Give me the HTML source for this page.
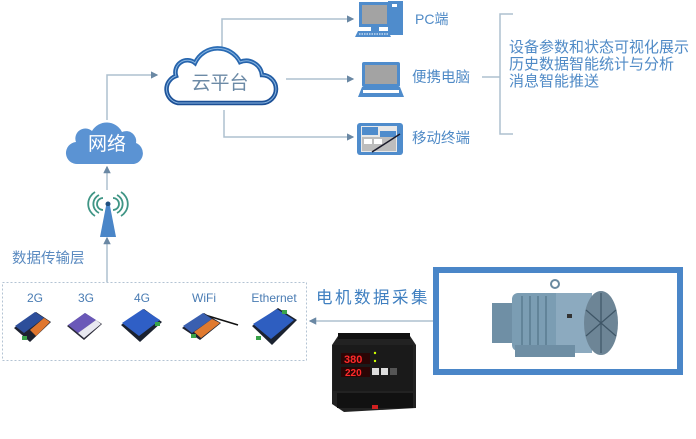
<!DOCTYPE html>
<html><head><meta charset="utf-8">
<style>
html,body{margin:0;padding:0;background:#fff;}
svg{display:block;}
text{font-family:"Liberation Sans","Noto Sans CJK SC",sans-serif;}
</style></head>
<body>
<svg width="696" height="439" viewBox="0 0 696 439" xmlns="http://www.w3.org/2000/svg">
<defs>
<linearGradient id="cg" x1="0" y1="0" x2="0" y2="1">
<stop offset="0" stop-color="#2a6cb5"/><stop offset="1" stop-color="#1c4f95"/>
</linearGradient>
<marker id="ar" viewBox="0 0 6 6" refX="5" refY="3" markerWidth="5" markerHeight="5" orient="auto">
<path d="M0,0 L6,3 L0,6 z" fill="#6a88a4"/>
</marker>
</defs>

<!-- connectors -->
<g stroke="#adc0cf" stroke-width="1.5" fill="none">
<path d="M222 47 V19 H353" marker-end="url(#ar)"/>
<path d="M286 79 H353" marker-end="url(#ar)"/>
<path d="M224 110 V137 H353" marker-end="url(#ar)"/>
<path d="M107 120 V75 H157" marker-end="url(#ar)"/>
<path d="M107 190 V167" marker-end="url(#ar)"/>
<path d="M107 282 V238" marker-end="url(#ar)"/>
<path d="M433 321 H310" marker-end="url(#ar)"/>
<path d="M482 77 H500"/>
<path d="M513 14 H500 V134 H513"/>
</g>

<!-- cloud platform -->
<path d="M178 103 A14 14 0 0 1 176 76 A12 12 0 0 1 195 63 A25 25 0 0 1 240 62 A16 16 0 0 1 262 75 A14 14 0 0 1 262 103 Z" fill="#fff" stroke="url(#cg)" stroke-width="4.5"/>
<path d="M178 103 A14 14 0 0 1 176 76 A12 12 0 0 1 195 63 A25 25 0 0 1 240 62 A16 16 0 0 1 262 75 A14 14 0 0 1 262 103 Z" fill="none" stroke="#8ab6e2" stroke-width="1"/>
<text x="220" y="89" font-size="19" fill="#6c8aa6" text-anchor="middle">云平台</text>

<!-- network cloud -->
<path d="M78 164 A11 11 0 0 1 76 142 A10 10 0 0 1 92 131 A17 17 0 0 1 122 132 A10 10 0 0 1 136 143 A11 11 0 0 1 134 164 Z" fill="#5b93d3"/>
<text x="107" y="150" font-size="19" fill="#fff" text-anchor="middle">网络</text>

<!-- antenna -->
<g stroke="#3f9585" stroke-width="1.8" fill="none">
<path d="M103 198 A6 6 0 0 0 103 210"/><path d="M113 198 A6 6 0 0 1 113 210"/>
<path d="M99 195 A10 10 0 0 0 99 213"/><path d="M117 195 A10 10 0 0 1 117 213"/>
<path d="M95 192 A14 14 0 0 0 95 216"/><path d="M121 192 A14 14 0 0 1 121 216"/>
</g>
<circle cx="108" cy="204" r="2.5" fill="#1f4f80"/>
<path d="M106 206 L110 206 L116 237 L100 237 Z" fill="#4a86c8"/>

<text x="12" y="263" font-size="14.5" fill="#5a8ac0">数据传输层</text>

<!-- device box -->
<rect x="2.5" y="282.5" width="304" height="78" fill="none" stroke="#b3c3d3" stroke-width="1" stroke-dasharray="2,2"/>
<g font-size="12" fill="#4a7cb3" text-anchor="middle">
<text x="35" y="302">2G</text><text x="86" y="302">3G</text><text x="142" y="302">4G</text>
<text x="204" y="302">WiFi</text><text x="274" y="302">Ethernet</text>
</g>
<!-- 2G -->
<g>
<polygon points="14,328 36,312 51,322 30,342" fill="#1e2230"/>
<polygon points="15,326 35,312 44,318 24,333" fill="#2d4e9a"/>
<polygon points="30,330 44,318 50,322 36,336" fill="#e0762e"/>
<rect x="22" y="336" width="5" height="4" fill="#3aa34a"/>
</g>
<!-- 3G -->
<g>
<polygon points="67,326 85,313 102,324 84,340" fill="#2a2a38"/>
<polygon points="68,325 85,313 96,320 78,333" fill="#6a58b8"/>
<polygon points="78,333 96,320 101,324 84,338" fill="#e8e8f0"/>
</g>
<!-- 4G -->
<g>
<polygon points="121,325 144,309 162,322 140,342" fill="#1b2230"/>
<polygon points="122,323 143,309 160,320 139,336" fill="#2f5fc6"/>
<rect x="155" y="322" width="5" height="4" fill="#3aa34a"/>
</g>
<!-- WiFi -->
<g>
<line x1="205" y1="315" x2="238" y2="325" stroke="#111" stroke-width="1.5"/>
<polygon points="182,328 204,313 221,323 200,340" fill="#1e2230"/>
<polygon points="183,326 203,313 212,319 192,333" fill="#3a5fb0"/>
<polygon points="194,332 212,319 220,323 201,338" fill="#e07a30"/>
<rect x="191" y="334" width="5" height="4" fill="#3aa34a"/>
</g>
<!-- Ethernet -->
<g>
<polygon points="252,326 278,308 297,320 272,345" fill="#1b2230"/>
<polygon points="253,324 277,309 294,320 271,339" fill="#2e5ec0"/>
<rect x="282" y="310" width="5" height="4" fill="#3aa34a"/>
<rect x="256" y="336" width="5" height="4" fill="#3aa34a"/>
</g>

<text x="316" y="303" font-size="16.5" fill="#3f7fc0" letter-spacing="2.5">电机数据采集</text>

<!-- meter -->
<g>
<polygon points="338,336 410,336 416,345 416,408 344,412 332,404 332,345" fill="#222"/>
<rect x="338" y="333" width="72" height="6" fill="#111"/>
<rect x="333" y="345" width="80" height="46" fill="#1a1a1a"/>
<rect x="341" y="353" width="29" height="11" fill="#2a0505"/>
<text x="344" y="363" font-size="11" fill="#ff2a2a" font-family="Liberation Mono" font-weight="bold">380</text>
<rect x="341" y="367" width="29" height="10" fill="#2a0505"/>
<text x="345" y="376" font-size="10" fill="#ff2a2a" font-family="Liberation Mono" font-weight="bold">220</text>
<rect x="372" y="368" width="7" height="7" fill="#ddd"/><rect x="381" y="368" width="7" height="7" fill="#ddd"/><rect x="390" y="368" width="7" height="7" fill="#555"/>
<circle cx="375" cy="353" r="1.2" fill="#cf0"/><circle cx="375" cy="361" r="1.2" fill="#cf0"/>
<rect x="337" y="393" width="76" height="15" fill="#111"/>
<rect x="372" y="405" width="6" height="4" fill="#d02020"/>
</g>

<!-- motor box -->
<rect x="436" y="270" width="244" height="102" fill="#fff" stroke="#4a86c8" stroke-width="6"/>
<g>
<rect x="492" y="303" width="24" height="40" fill="#6f8fa5"/>
<rect x="512" y="293" width="80" height="58" rx="6" fill="#7b9db3"/>
<g stroke="#5b7b90" stroke-width="1.5">
<line x1="522" y1="296" x2="522" y2="348"/><line x1="530" y1="296" x2="530" y2="348"/><line x1="538" y1="296" x2="538" y2="348"/><line x1="546" y1="296" x2="546" y2="348"/>
</g>
<rect x="556" y="293" width="36" height="60" fill="#8caabf"/>
<rect x="515" y="345" width="60" height="12" fill="#6e8ea4"/>
<circle cx="555" cy="284" r="4" fill="none" stroke="#6a8aa0" stroke-width="2"/>
<ellipse cx="601" cy="323" rx="17" ry="32" fill="#6d8596"/>
<g stroke="#3e5566" stroke-width="1.2">
<line x1="601" y1="293" x2="601" y2="353"/><line x1="586" y1="310" x2="616" y2="336"/><line x1="586" y1="336" x2="616" y2="310"/>
</g>
<rect x="567" y="314" width="5" height="4" fill="#333"/>
</g>

<!-- PC -->
<g>
<rect x="359" y="2" width="31" height="25" fill="#4f8ccc"/>
<rect x="362" y="5" width="25" height="19" fill="#a3a3a3"/>
<rect x="388" y="1" width="15" height="34" fill="#4f8ccc"/>
<rect x="392" y="4" width="5" height="3" fill="#fff"/>
<rect x="371" y="27" width="8" height="4" fill="#4f8ccc"/>
<polygon points="358,31 388,31 391,37 355,37" fill="#4f8ccc"/>
<line x1="359" y1="34" x2="388" y2="34" stroke="#fff" stroke-width="1" stroke-dasharray="1.5,1"/>
</g>
<text x="415" y="24" font-size="14" fill="#4f8ac6">PC端</text>
<!-- laptop -->
<g>
<rect x="362" y="62" width="38" height="25" rx="2" fill="#4f8ccc"/>
<rect x="365" y="65" width="32" height="19" fill="#a3a3a3"/>
<polygon points="362,87 400,87 404,97 358,97" fill="#4f8ccc"/>
<rect x="363" y="90" width="36" height="3" fill="#fff"/>
</g>
<text x="412" y="82" font-size="14.5" fill="#4f8ac6">便携电脑</text>
<!-- mobile -->
<g>
<rect x="357" y="123" width="46" height="32" rx="3" fill="#4f8ccc"/>
<rect x="361" y="126" width="36" height="26" fill="#e8e8e8"/>
<rect x="362" y="127" width="16" height="8" fill="#4f8ccc"/>
<rect x="380" y="131" width="16" height="6" fill="#4f8ccc"/>
<rect x="362" y="137" width="34" height="14" fill="#bdbdbd"/>
<rect x="364" y="139" width="8" height="5" fill="#fff"/><rect x="374" y="139" width="8" height="5" fill="#fff"/>
<line x1="372" y1="152" x2="400" y2="134" stroke="#1a1a2a" stroke-width="1.5"/>
</g>
<text x="412" y="143" font-size="14.5" fill="#4f8ac6">移动终端</text>

<g font-size="15" fill="#4f8ac6">
<text x="509" y="52">设备参数和状态可视化展示</text>
<text x="509" y="69">历史数据智能统计与分析</text>
<text x="509" y="86">消息智能推送</text>
</g>
</svg>
</body></html>
